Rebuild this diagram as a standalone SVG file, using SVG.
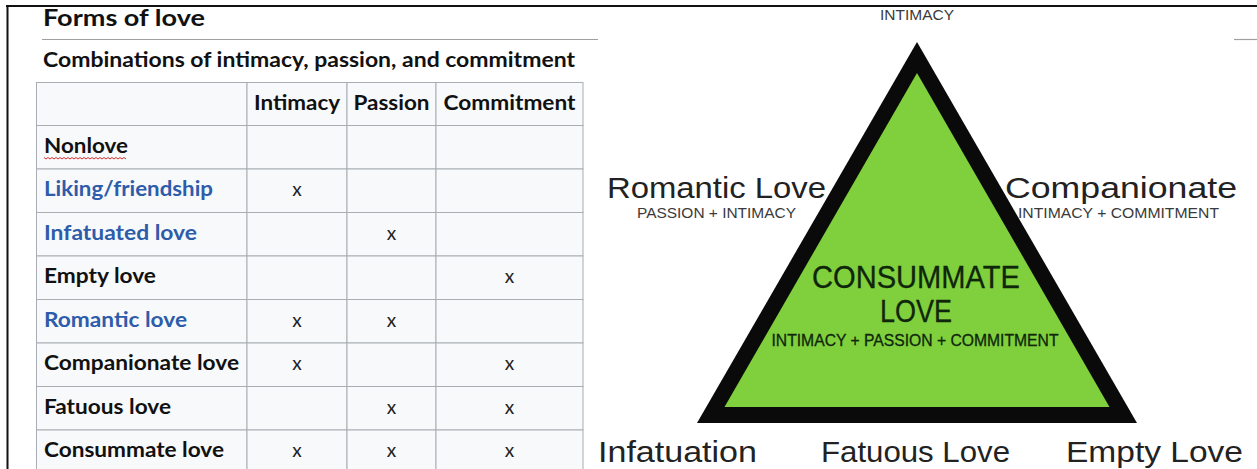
<svg xmlns="http://www.w3.org/2000/svg" width="1257" height="469" viewBox="0 0 1257 469">
<style>
.ttl{font-family:Lato,"Open Sans",sans-serif;font-weight:700;fill:#111}
.lbl{font-family:Lato,"Open Sans",sans-serif;font-weight:700;font-size:20px;fill:#111}
.blue{fill:#2d5cab}
.hdr{font-family:Lato,"Open Sans",sans-serif;font-weight:700;font-size:20px;fill:#111;text-anchor:middle}
.x{font-family:Lato,"Open Sans",sans-serif;font-size:19px;fill:#222;text-anchor:middle}
.cell{fill:#f8f9fa;stroke:#a8aeb4;stroke-width:1}
.big{font-family:"Liberation Sans",Arial,sans-serif;font-size:30px;fill:#222}
.sm{font-family:"Liberation Sans",Arial,sans-serif;font-size:15px;fill:#3a3a3a}
.in{font-family:"Liberation Sans",Arial,sans-serif;fill:#0f260a;stroke:#0f260a;stroke-width:0.3;text-anchor:middle}
</style>
<rect width="1257" height="469" fill="#ffffff"/>
<g id="frame">
<line x1="6" y1="6" x2="1257" y2="6" stroke="#111" stroke-width="2"/>
<line x1="7.5" y1="6" x2="7.5" y2="469" stroke="#111" stroke-width="2"/>
<line x1="42" y1="39.5" x2="598" y2="39.5" stroke="#a0a0a0" stroke-width="1.2"/>
<line x1="1234" y1="39.5" x2="1257" y2="39.5" stroke="#a0a0a0" stroke-width="1.2"/>
</g>
<g id="title">
<text class="ttl" x="43" y="26" font-size="22" textLength="162" lengthAdjust="spacingAndGlyphs">Forms of love</text>
<text class="lbl" x="43" y="67" textLength="532" lengthAdjust="spacingAndGlyphs">Combinations of intimacy, passion, and commitment</text>
</g>
<g id="table">
<g id="cells">
<rect class="cell" x="36.5" y="82.5" width="210.5" height="43"/>
<rect class="cell" x="247" y="82.5" width="100" height="43"/>
<rect class="cell" x="347" y="82.5" width="89" height="43"/>
<rect class="cell" x="436" y="82.5" width="147" height="43"/>
<rect class="cell" x="36.5" y="125.5" width="210.5" height="43.5"/>
<rect class="cell" x="247" y="125.5" width="100" height="43.5"/>
<rect class="cell" x="347" y="125.5" width="89" height="43.5"/>
<rect class="cell" x="436" y="125.5" width="147" height="43.5"/>
<rect class="cell" x="36.5" y="169" width="210.5" height="43.5"/>
<rect class="cell" x="247" y="169" width="100" height="43.5"/>
<rect class="cell" x="347" y="169" width="89" height="43.5"/>
<rect class="cell" x="436" y="169" width="147" height="43.5"/>
<rect class="cell" x="36.5" y="212.5" width="210.5" height="43.5"/>
<rect class="cell" x="247" y="212.5" width="100" height="43.5"/>
<rect class="cell" x="347" y="212.5" width="89" height="43.5"/>
<rect class="cell" x="436" y="212.5" width="147" height="43.5"/>
<rect class="cell" x="36.5" y="256" width="210.5" height="43.5"/>
<rect class="cell" x="247" y="256" width="100" height="43.5"/>
<rect class="cell" x="347" y="256" width="89" height="43.5"/>
<rect class="cell" x="436" y="256" width="147" height="43.5"/>
<rect class="cell" x="36.5" y="299.5" width="210.5" height="43.5"/>
<rect class="cell" x="247" y="299.5" width="100" height="43.5"/>
<rect class="cell" x="347" y="299.5" width="89" height="43.5"/>
<rect class="cell" x="436" y="299.5" width="147" height="43.5"/>
<rect class="cell" x="36.5" y="343" width="210.5" height="43.5"/>
<rect class="cell" x="247" y="343" width="100" height="43.5"/>
<rect class="cell" x="347" y="343" width="89" height="43.5"/>
<rect class="cell" x="436" y="343" width="147" height="43.5"/>
<rect class="cell" x="36.5" y="386.5" width="210.5" height="43.5"/>
<rect class="cell" x="247" y="386.5" width="100" height="43.5"/>
<rect class="cell" x="347" y="386.5" width="89" height="43.5"/>
<rect class="cell" x="436" y="386.5" width="147" height="43.5"/>
<rect class="cell" x="36.5" y="430" width="210.5" height="43.5"/>
<rect class="cell" x="247" y="430" width="100" height="43.5"/>
<rect class="cell" x="347" y="430" width="89" height="43.5"/>
<rect class="cell" x="436" y="430" width="147" height="43.5"/>
</g>
<g id="header">
<text class="hdr" x="297" y="110" textLength="86" lengthAdjust="spacingAndGlyphs">Intimacy</text>
<text class="hdr" x="391.5" y="110" textLength="76" lengthAdjust="spacingAndGlyphs">Passion</text>
<text class="hdr" x="509.5" y="110" textLength="132" lengthAdjust="spacingAndGlyphs">Commitment</text>
</g>
<g id="row-nonlove">
<text class="lbl" x="44" y="153" textLength="84" lengthAdjust="spacingAndGlyphs">Nonlove</text>
<path d="M44 157.5 l2 1.5 l2 -1.5 l2 1.5 l2 -1.5 l2 1.5 l2 -1.5 l2 1.5 l2 -1.5 l2 1.5 l2 -1.5 l2 1.5 l2 -1.5 l2 1.5 l2 -1.5 l2 1.5 l2 -1.5 l2 1.5 l2 -1.5 l2 1.5 l2 -1.5 l2 1.5 l2 -1.5 l2 1.5 l2 -1.5 l2 1.5 l2 -1.5 l2 1.5 l2 -1.5 l2 1.5 l2 -1.5 l2 1.5 l2 -1.5 l2 1.5 l2 -1.5 l2 1.5 l2 -1.5 l2 1.5 l2 -1.5 l2 1.5 l2 -1.5 l2 1.5" fill="none" stroke="#d63030" stroke-width="1"/>
</g>
<g id="row-liking">
<text class="lbl blue" x="44" y="196" textLength="169" lengthAdjust="spacingAndGlyphs">Liking/friendship</text>
<text class="x" x="297" y="196">x</text>
</g>
<g id="row-infatuated">
<text class="lbl blue" x="44" y="240" textLength="153" lengthAdjust="spacingAndGlyphs">Infatuated love</text>
<text class="x" x="391.5" y="240">x</text>
</g>
<g id="row-empty">
<text class="lbl" x="44" y="283" textLength="112" lengthAdjust="spacingAndGlyphs">Empty love</text>
<text class="x" x="509.5" y="283">x</text>
</g>
<g id="row-romantic">
<text class="lbl blue" x="44" y="327" textLength="143" lengthAdjust="spacingAndGlyphs">Romantic love</text>
<text class="x" x="297" y="327">x</text>
<text class="x" x="391.5" y="327">x</text>
</g>
<g id="row-companionate">
<text class="lbl" x="44" y="370" textLength="195" lengthAdjust="spacingAndGlyphs">Companionate love</text>
<text class="x" x="297" y="370">x</text>
<text class="x" x="509.5" y="370">x</text>
</g>
<g id="row-fatuous">
<text class="lbl" x="44" y="414" textLength="127" lengthAdjust="spacingAndGlyphs">Fatuous love</text>
<text class="x" x="391.5" y="414">x</text>
<text class="x" x="509.5" y="414">x</text>
</g>
<g id="row-consummate">
<text class="lbl" x="44" y="457" textLength="180" lengthAdjust="spacingAndGlyphs">Consummate love</text>
<text class="x" x="297" y="457">x</text>
<text class="x" x="391.5" y="457">x</text>
<text class="x" x="509.5" y="457">x</text>
</g>
</g>
<g id="triangle">
<polygon points="917,42 697,423 1137,423" fill="#0a0a0a"/>
<polygon points="917,73 724.5,407 1109.5,407" fill="#7fd03c"/>
</g>
<g id="node-consummate">
<text class="in" x="916" y="288" font-size="31" textLength="208" lengthAdjust="spacingAndGlyphs">CONSUMMATE</text>
<text class="in" x="916" y="322" font-size="31" textLength="72" lengthAdjust="spacingAndGlyphs">LOVE</text>
<text class="in" x="915" y="346" font-size="16" textLength="287" lengthAdjust="spacingAndGlyphs">INTIMACY + PASSION + COMMITMENT</text>
</g>
<g id="node-intimacy">
<text class="sm" x="917" y="20" font-size="14" text-anchor="middle" textLength="74" lengthAdjust="spacingAndGlyphs">INTIMACY</text>
</g>
<g id="node-romantic">
<text class="big" x="607" y="198" textLength="219" lengthAdjust="spacingAndGlyphs">Romantic Love</text>
<text class="sm" x="637" y="218" textLength="159" lengthAdjust="spacingAndGlyphs">PASSION + INTIMACY</text>
</g>
<g id="node-companionate">
<text class="big" x="1005" y="198" textLength="232" lengthAdjust="spacingAndGlyphs">Companionate</text>
<text class="sm" x="1018" y="218" textLength="201" lengthAdjust="spacingAndGlyphs">INTIMACY + COMMITMENT</text>
</g>
<g id="node-infatuation">
<text class="big" x="598" y="462" textLength="159" lengthAdjust="spacingAndGlyphs">Infatuation</text>
</g>
<g id="node-fatuous">
<text class="big" x="821" y="462" textLength="189" lengthAdjust="spacingAndGlyphs">Fatuous Love</text>
</g>
<g id="node-empty">
<text class="big" x="1066" y="462" textLength="177" lengthAdjust="spacingAndGlyphs">Empty Love</text>
</g>
<g id="connectors"></g>
</svg>
